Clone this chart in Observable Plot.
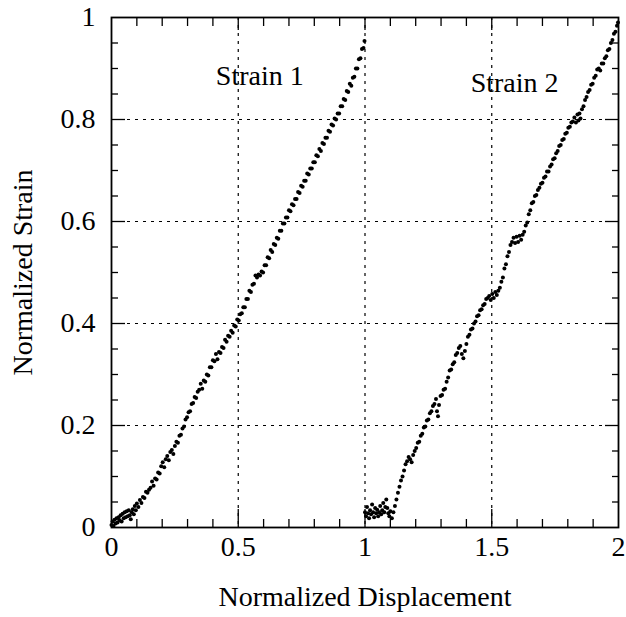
<!DOCTYPE html>
<html>
<head>
<meta charset="utf-8">
<script src="https://cdn.jsdelivr.net/npm/d3@7"></script>
<script src="https://cdn.jsdelivr.net/npm/@observablehq/plot@0.6"></script>
<style>
  html, body { margin: 0; padding: 0; background: #fff; }
</style>
</head>
<body>
<div id="chart"></div>
<script>
// Strain 1 readings: [normalized displacement, normalized strain]
const strain1 = [
[0.000,0.005],[0.004,0.012],[0.008,0.003],[0.012,0.015],[0.016,0.008],[0.020,0.018],[0.024,0.010],[0.028,0.020],
[0.032,0.014],[0.036,0.024],[0.040,0.012],[0.044,0.027],[0.048,0.018],[0.052,0.030],[0.056,0.020],[0.060,0.032],
[0.064,0.022],[0.068,0.034],[0.072,0.024],[0.076,0.016],[0.080,0.030],[0.084,0.036],[0.088,0.026],[0.092,0.042],
[0.096,0.034],[0.100,0.047],[0.106,0.040],[0.112,0.054],[0.118,0.048],[0.124,0.060],[0.130,0.058],[0.136,0.070],
[0.142,0.068],[0.148,0.074],[0.154,0.078],[0.160,0.090],[0.166,0.082],[0.172,0.096],[0.178,0.094],[0.184,0.108],
[0.190,0.106],[0.196,0.120],[0.202,0.128],[0.208,0.118],[0.214,0.134],[0.220,0.140],[0.226,0.132],[0.232,0.148],
[0.238,0.152],[0.244,0.144],[0.250,0.160],[0.256,0.168],[0.262,0.166],[0.268,0.180],[0.274,0.182],[0.280,0.194],
[0.286,0.198],[0.292,0.212],[0.298,0.216],[0.304,0.226],[0.310,0.228],[0.316,0.242],[0.322,0.244],[0.328,0.256],
[0.334,0.254],[0.340,0.266],[0.346,0.270],[0.352,0.282],[0.358,0.272],[0.364,0.288],[0.370,0.286],[0.376,0.300],
[0.382,0.298],[0.388,0.314],[0.394,0.314],[0.400,0.328],[0.406,0.326],[0.412,0.340],[0.418,0.330],[0.424,0.344],
[0.430,0.342],[0.436,0.354],[0.442,0.352],[0.448,0.368],[0.454,0.364],[0.460,0.376],[0.466,0.374],[0.472,0.386],
[0.478,0.382],[0.484,0.396],[0.490,0.394],[0.496,0.408],[0.502,0.406],[0.508,0.418],[0.514,0.420],[0.520,0.432],
[0.526,0.432],[0.532,0.448],[0.538,0.448],[0.544,0.464],[0.550,0.462],[0.556,0.476],[0.562,0.478],[0.568,0.494],
[0.574,0.490],[0.580,0.496],[0.586,0.494],[0.592,0.502],[0.598,0.500],[0.604,0.514],[0.610,0.514],[0.616,0.530],
[0.622,0.528],[0.628,0.544],[0.634,0.540],[0.640,0.556],[0.646,0.554],[0.652,0.568],[0.658,0.566],[0.664,0.582],
[0.670,0.582],[0.676,0.596],[0.682,0.596],[0.688,0.608],[0.694,0.608],[0.700,0.622],[0.706,0.620],[0.712,0.634],
[0.718,0.632],[0.724,0.644],[0.730,0.644],[0.736,0.658],[0.742,0.656],[0.748,0.670],[0.754,0.668],[0.760,0.680],
[0.766,0.680],[0.772,0.694],[0.778,0.692],[0.784,0.704],[0.790,0.704],[0.796,0.716],[0.802,0.716],[0.808,0.730],
[0.814,0.728],[0.820,0.742],[0.826,0.738],[0.832,0.754],[0.838,0.752],[0.844,0.764],[0.850,0.764],[0.856,0.778],
[0.862,0.776],[0.868,0.790],[0.874,0.788],[0.880,0.802],[0.886,0.800],[0.892,0.812],[0.898,0.812],[0.904,0.826],
[0.910,0.826],[0.916,0.840],[0.922,0.838],[0.928,0.856],[0.934,0.854],[0.940,0.870],[0.946,0.866],[0.952,0.882],
[0.958,0.884],[0.964,0.900],[0.970,0.900],[0.976,0.918],[0.982,0.920],[0.988,0.938],[0.994,0.940],[0.998,0.954]
];

// Strain 2 readings: [normalized displacement, normalized strain]
const strain2 = [
[1.000,0.030],[1.004,0.022],[1.008,0.040],[1.012,0.028],[1.016,0.018],[1.020,0.034],[1.024,0.026],[1.028,0.045],
[1.032,0.030],[1.036,0.020],[1.040,0.038],[1.044,0.028],[1.048,0.035],[1.052,0.022],[1.056,0.030],[1.060,0.042],
[1.064,0.026],[1.068,0.034],[1.072,0.048],[1.076,0.030],[1.080,0.040],[1.084,0.055],[1.088,0.038],[1.092,0.028],
[1.096,0.022],[1.100,0.032],[1.106,0.018],[1.112,0.030],[1.118,0.042],[1.124,0.055],[1.130,0.068],[1.136,0.080],
[1.142,0.092],[1.148,0.100],[1.154,0.112],[1.160,0.124],[1.166,0.130],[1.172,0.138],[1.178,0.134],[1.184,0.128],
[1.190,0.142],[1.196,0.150],[1.202,0.156],[1.208,0.166],[1.214,0.168],[1.220,0.180],[1.226,0.184],[1.232,0.196],
[1.238,0.198],[1.244,0.210],[1.250,0.212],[1.256,0.224],[1.262,0.228],[1.268,0.238],[1.274,0.242],[1.280,0.252],
[1.284,0.228],[1.288,0.218],[1.292,0.240],[1.298,0.258],[1.304,0.260],[1.310,0.270],[1.316,0.272],[1.322,0.286],
[1.328,0.294],[1.334,0.308],[1.340,0.310],[1.346,0.320],[1.352,0.324],[1.358,0.338],[1.364,0.342],[1.370,0.352],
[1.376,0.356],[1.382,0.340],[1.388,0.332],[1.394,0.346],[1.400,0.360],[1.406,0.374],[1.412,0.378],[1.418,0.388],
[1.424,0.390],[1.430,0.400],[1.436,0.404],[1.442,0.414],[1.448,0.416],[1.454,0.426],[1.460,0.428],[1.466,0.436],
[1.472,0.438],[1.478,0.448],[1.484,0.450],[1.490,0.454],[1.496,0.446],[1.502,0.458],[1.508,0.450],[1.514,0.462],
[1.520,0.456],[1.526,0.464],[1.532,0.470],[1.538,0.482],[1.544,0.490],[1.550,0.508],[1.556,0.516],[1.562,0.532],
[1.568,0.540],[1.574,0.554],[1.580,0.560],[1.586,0.568],[1.592,0.558],[1.598,0.570],[1.604,0.560],[1.610,0.572],
[1.616,0.564],[1.622,0.574],[1.628,0.580],[1.634,0.592],[1.640,0.598],[1.646,0.614],[1.652,0.622],[1.658,0.636],
[1.664,0.638],[1.670,0.650],[1.676,0.652],[1.682,0.662],[1.688,0.666],[1.694,0.674],[1.700,0.676],[1.706,0.686],
[1.712,0.688],[1.718,0.698],[1.724,0.698],[1.730,0.708],[1.736,0.712],[1.742,0.722],[1.748,0.724],[1.754,0.734],
[1.760,0.738],[1.766,0.748],[1.772,0.750],[1.778,0.760],[1.784,0.762],[1.790,0.772],[1.796,0.774],[1.802,0.784],
[1.808,0.786],[1.814,0.794],[1.820,0.796],[1.826,0.804],[1.832,0.794],[1.838,0.810],[1.842,0.798],[1.846,0.812],
[1.850,0.802],[1.856,0.820],[1.862,0.826],[1.868,0.838],[1.874,0.844],[1.880,0.854],[1.886,0.858],[1.892,0.868],
[1.898,0.870],[1.904,0.882],[1.910,0.886],[1.916,0.898],[1.922,0.900],[1.928,0.896],[1.934,0.910],[1.940,0.910],
[1.946,0.920],[1.952,0.924],[1.958,0.936],[1.964,0.938],[1.970,0.950],[1.976,0.956],[1.982,0.968],[1.988,0.972],
[1.994,0.984],[1.998,0.990]
];

// Tick values
const xMajorTicks = [0, 0.5, 1, 1.5, 2];
const xMinorTicks = [0.1,0.2,0.3,0.4,0.6,0.7,0.8,0.9,1.1,1.2,1.3,1.4,1.6,1.7,1.8,1.9];
const yMajorTicks = [0, 0.2, 0.4, 0.6, 0.8, 1];
const yMinorTicks = [0.05,0.1,0.15,0.25,0.3,0.35,0.45,0.5,0.55,0.65,0.7,0.75,0.85,0.9,0.95];
const xGrid = [0.5, 1, 1.5];
const yGrid = [0.2, 0.4, 0.6, 0.8];

// Annotations
const labelText = ["Strain 1", "Strain 2"];
const labelX = [0.585, 1.59];
const labelY = [0.885, 0.872];
const labels = labelText.map((t, i) => ({text: t, x: labelX[i], y: labelY[i]}));

const xTitle = "Normalized Displacement";
const yTitle = "Normalized Strain";

const font = "'Liberation Serif', 'Times New Roman', serif";
const fmt = d => String(d);

const chart = Plot.plot({
  width: 626,
  height: 617,
  marginLeft: 111,
  marginRight: 8,
  marginTop: 17,
  marginBottom: 90,
  style: {fontFamily: font, fontSize: "28px", color: "black", background: "white"},
  x: {domain: [0, 2]},
  y: {domain: [0, 1]},
  marks: [
    Plot.gridX(xGrid, {stroke: "black", strokeOpacity: 1, strokeWidth: 1.2, strokeDasharray: "3,5"}),
    Plot.gridY(yGrid, {stroke: "black", strokeOpacity: 1, strokeWidth: 1.2, strokeDasharray: "3,5"}),
    // bottom axis: labels + inward ticks
    Plot.axisX(xMajorTicks, {anchor: "bottom", tickSize: 0, tickPadding: 9, label: null, fontSize: 28, tickFormat: fmt}),
    Plot.axisX(xMajorTicks.slice(1, -1), {anchor: "bottom", tickSize: -18, text: null, label: null, strokeWidth: 1.3}),
    Plot.axisX(xMinorTicks, {anchor: "bottom", tickSize: -8, text: null, label: null, strokeWidth: 1.3}),
    Plot.axisX(xMinorTicks, {anchor: "top", tickSize: -8, text: null, label: null, strokeWidth: 1.3}),
    Plot.axisX(xMajorTicks.slice(1, -1), {anchor: "top", tickSize: -12, text: null, label: null, strokeWidth: 1.3}),
    // left axis
    Plot.axisY(yMajorTicks, {anchor: "left", tickSize: 0, tickPadding: 16, label: null, fontSize: 28, tickFormat: fmt}),
    Plot.axisY(yMajorTicks.slice(1, -1), {anchor: "left", tickSize: -14, text: null, label: null, strokeWidth: 1.3}),
    Plot.axisY(yMinorTicks, {anchor: "left", tickSize: -7, text: null, label: null, strokeWidth: 1.3}),
    Plot.axisY(yMajorTicks.slice(1, -1), {anchor: "right", tickSize: -14, text: null, label: null, strokeWidth: 1.3}),
    Plot.axisY(yMinorTicks, {anchor: "right", tickSize: -7, text: null, label: null, strokeWidth: 1.3}),
    Plot.frame({stroke: "black", strokeWidth: 1.8}),
    Plot.dot(strain1, {x: d => d[0], y: d => d[1], r: 2, fill: "black", stroke: "none"}),
    Plot.dot(strain2, {x: d => d[0], y: d => d[1], r: 2, fill: "black", stroke: "none"}),
    Plot.text(labels, {x: "x", y: "y", text: "text", fontSize: 28, fill: "black"}),
    Plot.text([xTitle], {frameAnchor: "bottom", dy: 78, fontSize: 28, fill: "black"}),
    Plot.text([yTitle], {frameAnchor: "left", dx: -88, rotate: -90, textAnchor: "middle", fontSize: 28, fill: "black"})
  ]
});
document.getElementById("chart").appendChild(chart);
</script>
</body>
</html>
